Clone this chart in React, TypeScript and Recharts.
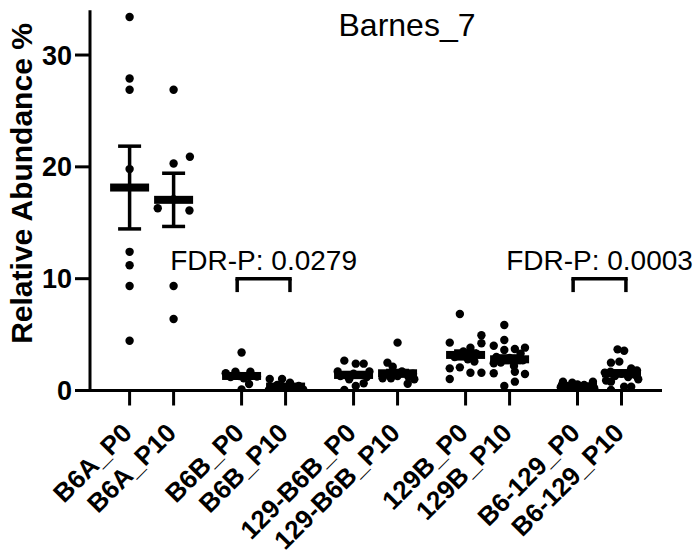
import React from 'react';
import { ComposedChart, Scatter, XAxis, YAxis, ErrorBar, ReferenceLine } from 'recharts';

const FONT = '"Liberation Sans", Arial, Helvetica, sans-serif';

// Categories and their x slots (pairs separated by a gap)
const categories = ['B6A_P0', 'B6A_P10', 'B6B_P0', 'B6B_P10', '129-B6B_P0', '129-B6B_P10', '129B_P0', '129B_P10', 'B6-129_P0', 'B6-129_P10'];
const positions = [0, 1, 2.545, 3.545, 5.09, 6.09, 7.636, 8.636, 10.18, 11.18];

// Individual values (%) and their horizontal scatter offsets (in slot units)
const b6aP0 = [33.4, 27.9, 26.9, 19.8, 12.4, 11.2, 9.35, 4.45];
const b6aP0Jit = [0, 0, 0, 0, 0, 0, 0, 0];
const b6aP10 = [26.9, 20.9, 20.3, 17.1, 16.3, 16.1, 9.35, 6.4];
const b6aP10Jit = [0, 0.37, 0, 0, -0.36, 0.36, 0, 0];
const b6bP0 = [3.4, 1.54, 1.68, 1.68, 1.24, 0.58, 0.1, 1.3, 1.2, 1.1];
const b6bP0Jit = [0, -0.36, -0.14, 0.2, 0.35, 0.17, 0, -0.05, -0.25, 0.05];
const b6bP10 = [1.03, 1.03, 0.7, 0.5, 0.4, 0.3, 0.25, 0.2, 0.1, 0.05, 0.02, 0.02];
const b6bP10Jit = [-0.36, -0.08, 0.1, -0.19, 0.3, 0.0, -0.25, 0.2, 0.4, -0.38, 0.22, -0.1];
const mixP0 = [2.67, 2.4, 2.4, 1.7, 1.7, 1.5, 1.3, 1.2, 1.0, 0.64, 0.4, 0.05];
const mixP0Jit = [-0.21, 0.05, 0.23, -0.36, 0.36, 0, -0.3, 0.3, -0.1, 0.23, 0.05, -0.21];
const mixP10 = [4.28, 2.49, 2.13, 1.7, 1.5, 1.4, 1.3, 1.2, 1.1, 1.09, 1.0, 0.6];
const mixP10Jit = [0, -0.23, -0.11, 0.1, 0.35, -0.3, 0, 0.25, -0.15, -0.34, 0.38, 0.23];
const b129P0 = [6.84, 4.94, 4.28, 4.22, 3.83, 3.5, 3.3, 3.0, 2.8, 2.6, 2.07, 1.98, 1.59, 1.59, 1.03];
const b129P0Jit = [-0.13, 0.36, -0.36, 0.36, 0.11, -0.05, 0.25, -0.25, 0.05, 0.2, -0.13, -0.36, 0.11, 0.36, -0.36];
const b129P10 = [5.86, 4.52, 4.0, 3.83, 3.71, 3.62, 3.3, 3.0, 2.9, 2.7, 2.5, 2.43, 2.2, 1.68, 1.54, 1.48, 0.79, 0.4];
const b129P10Jit = [-0.12, -0.12, -0.36, 0.35, 0.12, -0.12, 0.25, -0.3, 0, 0.3, -0.2, -0.36, 0.1, 0.12, -0.36, 0.35, 0.12, -0.12];
const b6129P0 = [0.79, 0.7, 0.79, 0.5, 0.55, 0.4, 0.35, 0.3, 0.25, 0.2, 0.2];
const b6129P0Jit = [-0.33, -0.12, 0.35, 0.15, 0.0, -0.25, 0.25, -0.38, 0.05, 0.38, -0.1];
const b6129P10 = [3.68, 3.56, 2.49, 2.58, 1.68, 1.98, 0.79, 0.04, 0.34, 0.34, 1.8, 1.6, 1.5, 1.4, 1.3, 1.2, 1.0, 0.9];
const b6129P10Jit = [-0.09, 0.06, -0.24, -0.05, -0.25, 0.22, -0.24, -0.24, 0.06, 0.22, 0.35, -0.38, 0.0, 0.3, -0.15, 0.15, 0.38, -0.35];

const groups = [b6aP0, b6aP10, b6bP0, b6bP10, mixP0, mixP10, b129P0, b129P10, b6129P0, b6129P10];
const jitters = [b6aP0Jit, b6aP10Jit, b6bP0Jit, b6bP10Jit, mixP0Jit, mixP10Jit, b129P0Jit, b129P10Jit, b6129P0Jit, b6129P10Jit];

// Group means and SEM
const means = [18.15, 17.05, 1.3, 0.35, 1.39, 1.54, 3.18, 2.79, 0.36, 1.54];
const sems = [3.7, 2.38, 0.2, 0.1, 0.22, 0.25, 0.35, 0.3, 0.05, 0.22];

const yTicks = [0, 10, 20, 30];
const comparisons = [
  { from: 2, to: 3, label: 'FDR-P: 0.0279' },
  { from: 8, to: 9, label: 'FDR-P: 0.0003' },
];
const bracketTop = 10;
const bracketBottom = 8.8;
const bracketHalf = 0.6;

const title = 'Barnes_7';
const yLabel = 'Relative Abundance %';

const pointData = groups.flatMap((vals, gi) =>
  vals.map((v, i) => ({ x: positions[gi] + jitters[gi][i], y: v }))
);
const meanData = means.map((m, i) => ({ x: positions[i], y: m, err: sems[i] }));

const Dot = (p: any) => <circle cx={p.cx} cy={p.cy} r={4.2} fill="#000" />;
const MeanBar = (p: any) => <rect x={p.cx - 19.5} y={p.cy - 4} width={39} height={8} fill="#000" />;

const XTick = (props: any) => {
  const { x, y, payload } = props;
  const idx = positions.findIndex((p) => Math.abs(p - payload.value) < 1e-6);
  const label = idx >= 0 ? categories[idx] : '';
  return (
    <g transform={`translate(${x + 4},${y + 27})`}>
      <text
        x={0}
        y={0}
        transform="rotate(-45)"
        textAnchor="end"
        fontFamily={FONT}
        fontWeight="bold"
        fontSize={26}
        fill="#000"
      >
        {label}
      </text>
    </g>
  );
};

export default function App() {
  return (
    <div style={{ position: 'absolute', left: 0, top: 0, width: 696, height: 558, background: '#fff' }}>
      <ComposedChart
        width={696}
        height={558}
        margin={{ top: 10.3, right: 34, left: 0, bottom: 0 }}
      >
        <XAxis
          type="number"
          dataKey="x"
          domain={[-0.9, 12.1]}
          ticks={positions}
          interval={0}
          allowDataOverflow
          height={167.5}
          tickSize={15}
          tickMargin={2}
          axisLine={{ stroke: '#000', strokeWidth: 3 }}
          tickLine={{ stroke: '#000', strokeWidth: 3 }}
          tick={<XTick />}
        />
        <YAxis
          type="number"
          dataKey="y"
          domain={[0, 34]}
          ticks={yTicks}
          allowDataOverflow
          width={90}
          tickSize={15}
          tickMargin={3}
          axisLine={{ stroke: '#000', strokeWidth: 3 }}
          tickLine={{ stroke: '#000', strokeWidth: 3 }}
          tick={{ fill: '#000', fontSize: 27, fontWeight: 'bold', fontFamily: FONT }}
        />
        <Scatter data={pointData} dataKey="y" shape={Dot} isAnimationActive={false} />
        <Scatter data={meanData} dataKey="y" shape={MeanBar} isAnimationActive={false}>
          <ErrorBar dataKey="err" direction="y" width={11.5} strokeWidth={3.5} stroke="#000" />
        </Scatter>
        {comparisons.map((c, i) => {
          const mid = (positions[c.from] + positions[c.to]) / 2;
          const l = mid - bracketHalf;
          const r = mid + bracketHalf;
          return (
            <React.Fragment key={i}>
              <ReferenceLine
                segment={[{ x: l, y: bracketTop }, { x: r, y: bracketTop }]}
                stroke="#000"
                strokeWidth={3.5}
                strokeLinecap="square"
                label={{ value: c.label, position: 'top', offset: 9, fill: '#000', fontSize: 28, fontFamily: FONT }}
              />
              <ReferenceLine
                segment={[{ x: l, y: bracketTop }, { x: l, y: bracketBottom }]}
                stroke="#000"
                strokeWidth={3.5}
              />
              <ReferenceLine
                segment={[{ x: r, y: bracketTop }, { x: r, y: bracketBottom }]}
                stroke="#000"
                strokeWidth={3.5}
              />
            </React.Fragment>
          );
        })}
      </ComposedChart>
      <svg width={696} height={558} style={{ position: 'absolute', left: 0, top: 0, pointerEvents: 'none' }}>
        <text x={407} y={36} textAnchor="middle" fontFamily={FONT} fontSize={32} fill="#000">
          {title}
        </text>
        <text
          x={32}
          y={183.5}
          transform="rotate(-90, 32, 183.5)"
          textAnchor="middle"
          fontFamily={FONT}
          fontWeight="bold"
          fontSize={30}
          fill="#000"
        >
          {yLabel}
        </text>
      </svg>
    </div>
  );
}
